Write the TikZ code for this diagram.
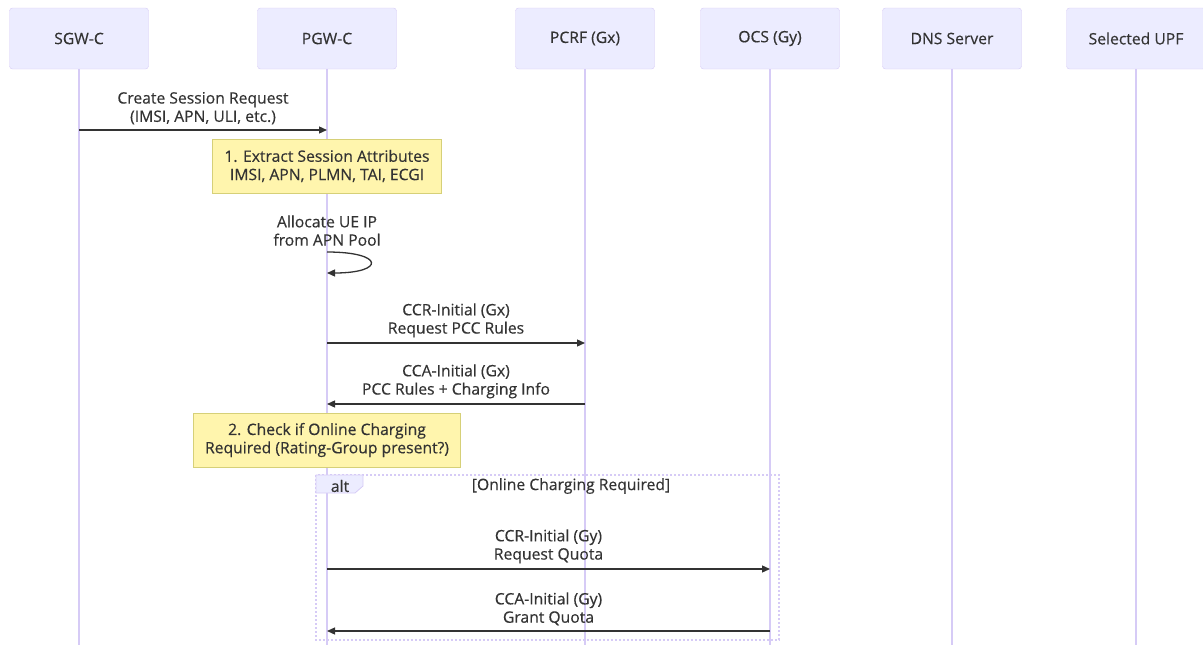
\documentclass[tikz,border=0pt]{standalone}
\usepackage{fontspec}
\setmainfont{Open Sans}[FakeBold=0.4]
\usetikzlibrary{arrows.meta,positioning}
\definecolor{actfill}{RGB}{236,236,255}
\definecolor{actline}{RGB}{214,203,246}
\definecolor{notefill}{RGB}{255,245,173}
\definecolor{noteline}{RGB}{214,208,120}
\definecolor{txt}{RGB}{51,51,51}
\newcommand{\fsz}{\fontsize{15.7}{18.3}\selectfont}
\tikzset{
	actor/.style = {rectangle, rounded corners=3pt, fill=actfill, draw=actline,
		minimum width=139pt, minimum height=61pt, font=\fsz, text=txt},% participant
	lifeline/.style = {draw=actline, line width=1.2pt},
	msg/.style = {draw=txt, line width=1.3pt, -{Triangle[length=8pt,width=7pt]}},
	msg_lbl/.style = {align=center, inner sep=0pt, text=txt, font=\fsz},
	note_y/.style = {rectangle, fill=notefill, draw=noteline, align=center,
		text=txt, font=\fsz, inner sep=0pt, minimum height=54pt},% yellow note
	alt_box/.style = {draw=actline, line width=1.2pt, dash pattern=on 2pt off 2pt}
}
\begin{document}
\begin{tikzpicture}[x=1pt,y=-1pt]
\useasboundingbox (0,0) rectangle (1203,645);
% participants and lifelines
\foreach \n/\x/\t in {sgw/79/SGW-C, pgw/327/PGW-C, pcrf/585/PCRF (Gx),
	ocs/770/OCS (Gy), dns/952/DNS Server, upf/1136/Selected UPF}{
	\node[actor] (\n) at (\x,38.5) {\t};
	\draw[lifeline] (\n.south) -- (\n |- 0,645);
}
% alt frame
\draw[alt_box] (316,475) rectangle (779,640);
\draw[fill=actfill, draw=actline, line width=0.8pt] (316,475) -- (363,475) -- (363,486)
	-- (355,493) -- (316,493) -- cycle;
\node[msg_lbl] (alt) at (340,486) {alt};
\node[msg_lbl] (cond) at (571,486) {[Online Charging Required]};
% messages
\draw[msg] (sgw |- 0,130) -- (pgw |- 0,130)
	node[msg_lbl, midway, above=5pt] {Create Session Request\\(IMSI, APN, ULI, etc.)};
\node[note_y, minimum width=229pt] (note1) at (pgw |- 0,166)
	{1. Extract Session Attributes\\IMSI, APN, PLMN, TAI, ECGI};
\node[msg_lbl, above=6pt] (alloc) at (pgw |- 0,252) {Allocate UE IP\\from APN Pool};
\draw[msg] (pgw |- 0,252) .. controls +(58,0) and +(58,0) .. (pgw |- 0,273);
\draw[msg] (pgw |- 0,343) -- (pcrf |- 0,343)
	node[msg_lbl, midway, above=5pt] {CCR-Initial (Gx)\\Request PCC Rules};
\draw[msg] (pcrf |- 0,404) -- (pgw |- 0,404)
	node[msg_lbl, midway, above=5pt] {CCA-Initial (Gx)\\PCC Rules + Charging Info};
\node[note_y, minimum width=267pt] (note2) at (pgw |- 0,440)
	{2. Check if Online Charging\\Required (Rating-Group present?)};
\draw[msg] (pgw |- 0,569) -- (ocs |- 0,569)
	node[msg_lbl, midway, above=5pt] {CCR-Initial (Gy)\\Request Quota};
\draw[msg] (ocs |- 0,631) -- (pgw |- 0,631)
	node[msg_lbl, midway, above=5pt] {CCA-Initial (Gy)\\Grant Quota};
\end{tikzpicture}
\end{document}
